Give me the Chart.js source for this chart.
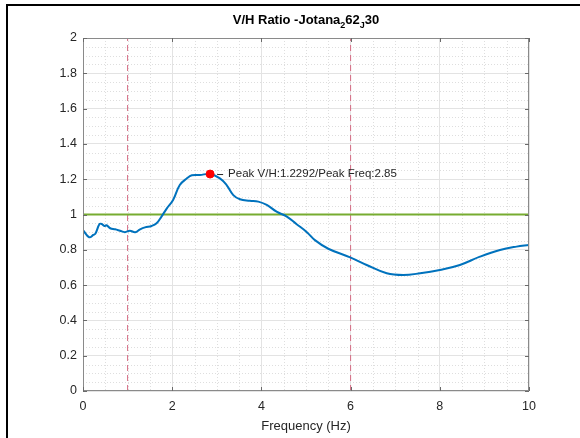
<!DOCTYPE html>
<html>
<head>
<meta charset="utf-8">
<script src="https://cdn.jsdelivr.net/npm/chart.js@4.4.1/dist/chart.umd.min.js"></script>
<style>
  html, body { margin: 0; padding: 0; background: #fff; }
  #wrap { width: 580px; height: 438px; }
</style>
</head>
<body>
<div id="wrap"><canvas id="vhChart" width="580" height="438"></canvas></div>
<script>
// === DATA ===
const freq = [0, 0.14, 0.23, 0.28, 0.37, 0.42, 0.48, 0.53, 0.61, 0.72, 0.83, 0.94, 1.05, 1.17, 1.28, 1.39,
    1.54, 1.65, 1.76, 1.88, 2.02, 2.17, 2.33, 2.44, 2.62, 2.85, 3.07, 3.22, 3.37, 3.52, 3.74, 3.93,
    4.12, 4.34, 4.57, 4.79, 5.02, 5.2, 5.5, 5.99, 6.36, 6.81, 7.18, 7.56, 8.0, 8.45, 8.9, 9.35, 9.72, 10];
const vhRatio = [0.912, 0.871, 0.884, 0.893, 0.946, 0.946, 0.935, 0.939, 0.922, 0.916, 0.908, 0.9, 0.908, 0.9, 0.916, 0.927,
    0.935, 0.95, 0.988, 1.035, 1.082, 1.167, 1.205, 1.222, 1.224, 1.2292, 1.205, 1.167, 1.11, 1.086, 1.078, 1.073,
    1.054, 1.016, 0.988, 0.945, 0.9, 0.855, 0.806, 0.757, 0.714, 0.667, 0.657, 0.667, 0.686, 0.714, 0.761, 0.799, 0.818, 0.827];
const peakFreq = 2.85;
const peakVH = 1.2292;
const limitFreqs = [1, 6];
const refLevel = 1;
const xTicks = [0, 2, 4, 6, 8, 10];
const yTicks = [0, 0.2, 0.4, 0.6, 0.8, 1, 1.2, 1.4, 1.6, 1.8, 2];
const xMinorStep = 0.5;
const yMinorStep = 0.05;

const FONT = "'Liberation Sans', Arial, Helvetica, sans-serif";
const TEXT = '#262626';

// minor grid, inward ticks, title with subscripts, outer frame, peak label
const decorPlugin = {
    id: 'decor',
    beforeDatasetsDraw(chart) {
        const { ctx, chartArea: a, scales: { x, y } } = chart;
        ctx.save();
        ctx.strokeStyle = '#dedede';
        ctx.lineWidth = 1;
        ctx.setLineDash([1, 2]);
        for (let i = 1; i * xMinorStep < 10; i++) {
            const v = i * xMinorStep;
            if (xTicks.includes(v)) continue;
            const px = Math.round(x.getPixelForValue(v)) + 0.5;
            ctx.beginPath(); ctx.moveTo(px, a.top); ctx.lineTo(px, a.bottom); ctx.stroke();
        }
        for (let i = 1; i * yMinorStep < 2; i++) {
            const v = +(i * yMinorStep).toFixed(2);
            if (i % 4 === 0) continue;
            const py = Math.round(y.getPixelForValue(v)) + 0.5;
            ctx.beginPath(); ctx.moveTo(a.left, py); ctx.lineTo(a.right, py); ctx.stroke();
        }
        ctx.restore();
    },
    afterDraw(chart) {
        const { ctx, chartArea: a, scales: { x, y } } = chart;
        ctx.save();
        // box
        ctx.strokeStyle = '#8a8a8a';
        ctx.lineWidth = 1;
        ctx.strokeRect(a.left + 0.5, a.top + 0.5, a.right - a.left - 1, a.bottom - a.top - 1);
        ctx.strokeStyle = '#6a6a6a';
        xTicks.forEach(v => {
            const px = Math.round(x.getPixelForValue(v)) + 0.5;
            ctx.beginPath();
            ctx.moveTo(px, a.bottom); ctx.lineTo(px, a.bottom - 4);
            ctx.moveTo(px, a.top); ctx.lineTo(px, a.top + 4);
            ctx.stroke();
        });
        yTicks.forEach(v => {
            const py = Math.round(y.getPixelForValue(v)) + 0.5;
            ctx.beginPath();
            ctx.moveTo(a.left, py); ctx.lineTo(a.left + 4, py);
            ctx.moveTo(a.right, py); ctx.lineTo(a.right - 4, py);
            ctx.stroke();
        });

        // peak label
        const mx = x.getPixelForValue(peakFreq);
        const my = y.getPixelForValue(peakVH);
        ctx.strokeStyle = TEXT;
        ctx.beginPath(); ctx.moveTo(mx + 7, my + 0.5); ctx.lineTo(mx + 13, my + 0.5); ctx.stroke();
        ctx.fillStyle = TEXT;
        ctx.font = '11.5px ' + FONT;
        ctx.textBaseline = 'middle';
        ctx.textAlign = 'left';
        ctx.fillText('Peak V/H:' + peakVH + '/Peak Freq:' + peakFreq, mx + 18, my);

        // title with TeX-like subscripts
        const parts = [['V/H Ratio -Jotana', 0], ['2', 1], ['62', 0], ['J', 1], ['30', 0]];
        const big = 'bold 13px ' + FONT, small = 'bold 9px ' + FONT;
        let w = 0;
        parts.forEach(p => { ctx.font = p[1] ? small : big; w += ctx.measureText(p[0]).width; });
        let tx = (a.left + a.right) / 2 - w / 2;
        ctx.fillStyle = '#000';
        ctx.textBaseline = 'alphabetic';
        parts.forEach(p => {
            ctx.font = p[1] ? small : big;
            ctx.fillText(p[0], tx, p[1] ? 28 : 24);
            tx += ctx.measureText(p[0]).width;
        });

        // outer figure frame
        ctx.strokeStyle = '#000';
        ctx.lineWidth = 2;
        ctx.beginPath();
        ctx.moveTo(580, 5); ctx.lineTo(7, 5); ctx.lineTo(7, 438);
        ctx.stroke();
        ctx.restore();
    }
};

const ctx = document.getElementById('vhChart');
new Chart(ctx, {
    type: 'line',
    data: {
        datasets: [{
            label: 'V/H',
            data: freq.map((f, i) => ({ x: f, y: vhRatio[i] })),
            borderColor: '#0072bd',
            borderWidth: 2,
            pointRadius: 0,
            tension: 0.4,
            order: 2
        }, {
            label: 'Reference',
            data: [{ x: 0, y: refLevel }, { x: 10, y: refLevel }],
            borderColor: '#77ac30',
            borderWidth: 2,
            pointRadius: 0,
            order: 3
        }, ...limitFreqs.map(f => ({
            label: 'Limit ' + f,
            data: [{ x: f, y: 0 }, { x: f, y: 2 }],
            borderColor: '#d46a83',
            borderWidth: 1,
            borderDash: [6, 4],
            pointRadius: 0,
            order: 4
        })), {
            label: 'Peak',
            data: [{ x: peakFreq, y: peakVH }],
            showLine: false,
            pointRadius: 4,
            pointBackgroundColor: '#ff0000',
            pointBorderColor: '#ff0000',
            order: 1
        }]
    },
    options: {
        responsive: false,
        animation: false,
        layout: { padding: { left: 0, top: 38, right: 51, bottom: 0 } },
        plugins: {
            legend: { display: false },
            tooltip: { enabled: false },
            title: { display: false }
        },
        scales: {
            x: {
                type: 'linear',
                min: 0, max: 10,
                afterFit: s => { s.height = 47; },
                afterBuildTicks: s => { s.ticks = xTicks.map(v => ({ value: v })); },
                grid: { color: '#e3e3e3', drawTicks: false },
                border: { display: false },
                ticks: {
                    padding: 8, color: TEXT, maxRotation: 0,
                    font: { family: FONT, size: 12.5 },
                    callback: v => String(v)
                },
                title: {
                    display: true, text: 'Frequency (Hz)', color: TEXT,
                    font: { family: FONT, size: 13 },
                    padding: { top: 0, bottom: 4 }
                }
            },
            y: {
                type: 'linear',
                min: 0, max: 2,
                afterFit: s => { s.width = 83; },
                afterBuildTicks: s => { s.ticks = yTicks.map(v => ({ value: v })); },
                grid: { color: '#e3e3e3', drawTicks: false },
                border: { display: false },
                ticks: {
                    padding: 6, color: TEXT,
                    font: { family: FONT, size: 12.5 },
                    callback: v => String(+v.toFixed(1))
                }
            }
        }
    },
    plugins: [decorPlugin]
});
</script>
</body>
</html>
